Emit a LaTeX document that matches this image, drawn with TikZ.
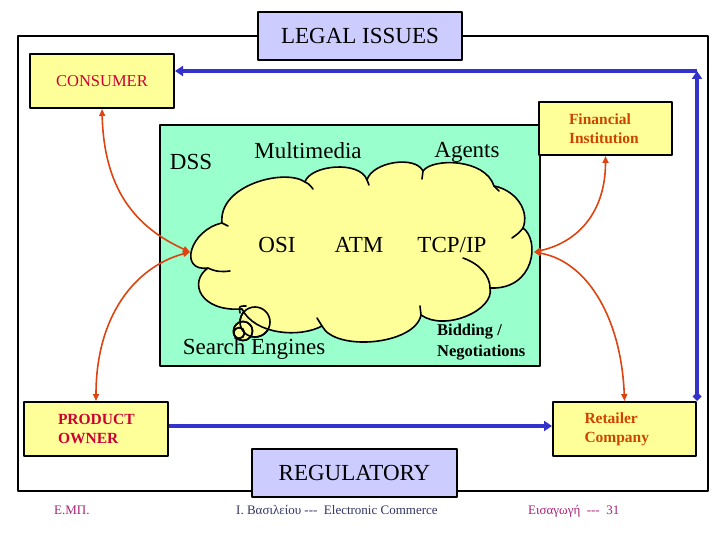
\documentclass[tikz,border=0pt]{standalone}
\usepackage{fontspec}
\setmainfont{Liberation Serif}
\usetikzlibrary{arrows.meta}
\definecolor{lilac}{RGB}{204,204,255}
\definecolor{paleyel}{RGB}{255,255,153}
\definecolor{mint}{RGB}{153,255,204}
\definecolor{flowblue}{RGB}{51,51,204}
\definecolor{linkred}{RGB}{221,68,17}
\definecolor{partyred}{RGB}{204,0,51}
\definecolor{rust}{RGB}{204,68,0}
\definecolor{footpink}{RGB}{170,34,119}
\definecolor{footslate}{RGB}{51,51,102}

\begin{document}
\begin{tikzpicture}[x=1pt, y=-1pt, line cap=round, line join=round]
  \tikzset{outerframe/.style={draw=black, line width=2pt},
    tag/.style={draw=black, line width=2pt, fill=lilac, minimum width=204pt, minimum height=48pt, font=\fontsize{23}{27}\selectfont},
    party/.style={draw=black, line width=2pt, fill=paleyel, minimum width=144pt, minimum height=54pt, inner sep=0pt, align=left, font=\bfseries\fontsize{15.5}{19}\selectfont},
    word/.style={font=\fontsize{23}{27}\selectfont, anchor=base, inner sep=0pt},
    bubble/.style={draw=black, fill=paleyel, line width=1.6pt},
    crease/.style={draw=black, line width=1.6pt},
    flow/.style={draw=flowblue, line width=4pt, line cap=butt},
    link/.style={draw=linkred, line width=1.6pt, {Triangle[length=7pt,width=6pt]}-{Triangle[length=7pt,width=6pt]}},
    foot/.style={font=\fontsize{13}{15}\selectfont, inner sep=0pt, anchor=base west}}
  \useasboundingbox (0,0) rectangle (720,540);

  % frame
  \draw[outerframe] (18,36) rectangle (708,491);

  % green panel
  \draw[line width=2pt, fill=mint] (160,125) rectangle (540,366);

  % cloud
  \foreach \x/\y/\r in {255/322/15,243/331/9.5,239/333/5.5}
    \draw[bubble] (\x,\y) circle[radius=\r];
  \draw[bubble] (208,268) .. controls (178,272) and (190,230) .. (222,223)
    .. controls (218,185) and (285,168) .. (305,182)
    .. controls (310,165) and (360,160) .. (367,180)
    .. controls (372,162) and (415,155) .. (423,171)
    .. controls (432,158) and (485,158) .. (494,186)
    .. controls (515,190) and (530,210) .. (523,228)
    .. controls (540,240) and (535,290) .. (490,288)
    .. controls (495,310) and (445,332) .. (421,315)
    .. controls (415,345) and (335,352) .. (322,326)
    .. controls (300,338) and (255,335) .. (242,309)
    .. controls (200,312) and (188,282) .. (208,268) -- cycle;
  \draw[crease] (208,268) .. controls (216,272) and (223,272) .. (230,271)
    (222,223) -- (228,226)
    (305,182) .. controls (309,184) .. (313,189)
    (367,180) -- (369,185)
    (423,171) -- (422,179)
    (494,186) -- (499,191)
    (523,228) .. controls (519,233) .. (512,238)
    (463,258) .. controls (480,264) and (490,276) .. (490,288)
    (421,315) -- (420,306)
    (322,326) .. controls (320,322) .. (317,318)
    (246,306) .. controls (239,306) .. (240,313);
  \foreach \x/\y/\r in {255/322/15,243/331/9.5,239/333/5.5}
    \draw[crease] (\x,\y) circle[radius=\r];
  \coordinate (cw) at (190,252);
  \coordinate (ce) at (534,252);

  % labels
  \foreach \n/\x/\y/\t in {dss/191/170/DSS, mm/308/159/Multimedia, ag/467/158/Agents, osi/277/252/OSI, atm/359/252/ATM, tcp/452/252/{TCP/IP}, se/254/354/{Search Engines}}
    \node[word] (\n) at (\x,\y) {\t};
  \node[font=\bfseries\fontsize{16.5}{21}\selectfont, align=left, anchor=north west, inner sep=0pt] (bid) at (437,324) {Bidding /\\Negotiations};

  % boxes
  \node[tag] (legal) at (360,36) {LEGAL ISSUES};
  \node[tag, minimum width=205pt] (reg) at (354.5,473) {REGULATORY};
  \node[party, text=partyred, font=\fontsize{16.5}{19}\selectfont] (cons) at (102,81) {CONSUMER};
  \node[party, text=partyred, text width=76pt] (po) at (96,429) {PRODUCT\\OWNER};
  \node[party, text=rust, text width=80pt, minimum width=143pt] (ret) at (624.5,429) {Retailer\\Company};
  \node[party, text=rust, text width=73pt, minimum width=133pt, minimum height=53pt] (fin) at (605.5,128.5) {Financial\\Institution};

  % connectors
  \draw[link] (cons.south) .. controls +(2,80) and +(-55,-25) .. (cw);
  \draw[link] (cw) .. controls +(-55,15) and +(0,-85) .. (po.north);
  \draw[link] (ce) .. controls +(45,-10) and +(0,55) .. (fin.south);
  \draw[link] (ce) .. controls +(55,10) and +(-3,-80) .. (ret.north);
  \coordinate (turn) at (697,71);
  \draw[flow, {Diamond[length=9pt,width=9pt]}-{Triangle[length=8pt,width=10pt]}] (ret.north east) -- (turn);
  \draw[flow, -{Triangle[length=8pt,width=10pt]}] (turn) -- (turn -| cons.east);
  \draw[flow, -{Triangle[length=8pt,width=10pt]}] ([yshift=3pt]po.east) -- ([yshift=3pt]ret.west);

  % footer
  \node[foot, text=footpink] (emp) at (54,514) {Ε.ΜΠ.};
  \node[foot, text=footslate] (auth) at (236,514) {Ι. Βασιλείου -{}-{}-\ \ Electronic Commerce};
  \node[foot, text=footpink] (pg) at (528,514) {Εισαγωγή \ -{}-{}- \ 31};
\end{tikzpicture}
\end{document}
